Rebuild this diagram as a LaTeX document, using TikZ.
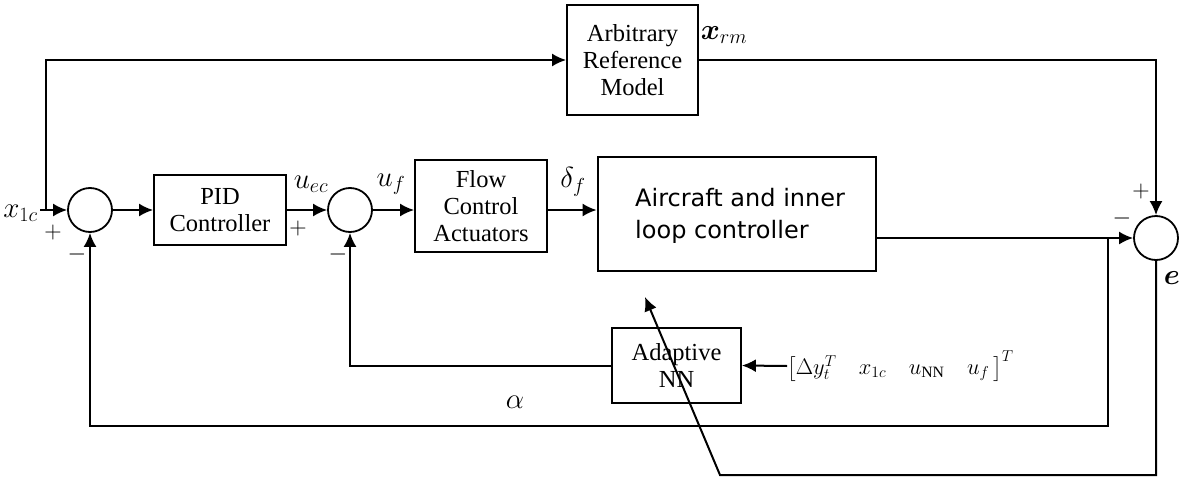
\RequirePackage{fix-cm}
\documentclass[tikz,border=0pt]{standalone}
\usepackage{amsmath}
\usepackage{bm}
\usepackage{fontspec}
\setmainfont{Liberation Serif}
\newfontfamily\dejavu{DejaVu Sans}
\usetikzlibrary{arrows.meta,calc}
\tikzset{
  blk/.style={draw, line width=1.8pt, inner sep=0pt, align=center,
    font=\fontsize{24.5}{27}\selectfont},
  sumj/.style={draw, circle, line width=1.8pt, minimum size=44pt, inner sep=0pt},
  wire/.style={line width=2pt},
  arr/.style={wire, -{Latex[length=14pt,width=13pt]}},
  lbl/.style={inner sep=0pt, font=\fontsize{29}{32}\selectfont},
  sgn/.style={inner sep=0pt, font=\fontsize{24}{28}\selectfont},
}
\begin{document}
\begin{tikzpicture}[x=1pt,y=-1pt]
\useasboundingbox (0,0) rectangle (1180,479);
% blocks
\node[blk, minimum width=131pt, minimum height=110pt] (arm) at (632.5,60) {Arbitrary\\Reference\\Model};
\node[blk, minimum width=132pt, minimum height=70pt] (pid) at (220,210) {PID\\Controller};
\node[blk, minimum width=132pt, minimum height=92pt] (fca) at (481,206) {Flow\\Control\\Actuators};
\node[draw, line width=2.8pt, minimum width=278pt, minimum height=114pt, inner sep=0pt] (acft) at (737,214) {};
\node[inner sep=0pt, align=left, anchor=west, font=\dejavu\fontsize{24}{32}\selectfont] (acftxt) at (635,216) {Aircraft and inner\\loop controller};
\node[blk, minimum width=129pt, minimum height=75pt] (ann) at (676.5,365.5) {Adaptive\\NN};
% summing junctions
\node[sumj] (s1) at (90,210) {};
\node[sumj] (s2) at (350,210) {};
\node[sumj] (s3) at (1156,238) {};
% coordinates
\coordinate (in) at (40,210);
\coordinate (j) at (46,210);
\coordinate (tap) at (1108,238);
\coordinate (fb) at (1108,426);
\coordinate (bot) at (1156,475);
\coordinate (b1) at (720,475);
\coordinate (tip) at (645,297);
% labels
\node[lbl, anchor=east] (x1c) at (38,213) {$x_{1c}$};
\node[lbl] (uec) at (311,184) {$u_{ec}$};
\node[lbl] (uf) at (391,184) {$u_f$};
\node[lbl] (df) at (573,182) {$\delta_f$};
\node[lbl] (xrm) at (724,35) {$\bm{x}_{rm}$};
\node[lbl] (e) at (1172,278) {$\bm{e}$};
\node[lbl] (alpha) at (515,402) {$\alpha$};
\node[sgn] (p1) at (53,232) {$+$};
\node[sgn] (m1) at (77,254) {$-$};
\node[sgn] (p2) at (298,228) {$+$};
\node[sgn] (m2) at (338,254) {$-$};
\node[sgn] (p3) at (1141,191) {$+$};
\node[sgn] (m3) at (1122,218) {$-$};
\node[inner sep=0pt, anchor=west, font=\fontsize{22.5}{26}\selectfont] (vec) at (787,366)
  {$\left[\Delta y_t^T\quad x_{1c}\quad u_{\mathrm{NN}}\quad u_f\,\right]^T$};
% connectors
\draw[arr] (in) -- (s1.west);
\draw[arr] (j) |- (arm.west);
\draw[arr] (s1.east) -- (pid.west);
\draw[arr] (pid.east) -- (s2.west);
\draw[arr] (s2.east) -- (fca.west |- s2.east);
\draw[arr] (fca.east |- s2.east) -- (acft.west |- s2.east);
\draw[arr] (acft.east |- s3.west) -- (s3.west);
\draw[arr] (arm.east) -| (s3.north);
\draw[arr] (tap) -- (fb) -| (s1.south);
\draw[arr] (ann.west) -| (s2.south);
\draw[arr] (vec.west) -- (ann.east);
\draw[arr] (s3.south) -- (bot) -- (b1) -- (tip);
\end{tikzpicture}
\end{document}
